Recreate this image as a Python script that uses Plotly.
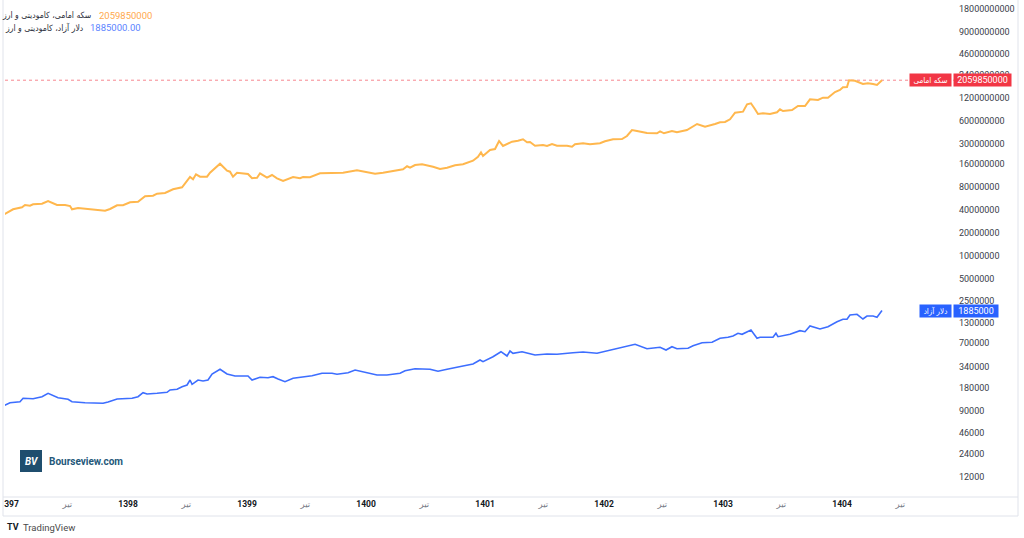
import math
import plotly.graph_objects as go

# ---------------- data ----------------
gold_name = "سکه امامی، کامودیتی و ارز"
usd_name = "دلار آزاد، کامودیتی و ارز"
gold_tag = "سکه امامی"
usd_tag = "دلار آزاد"
gold_last_text = "2059850000"
usd_last_text = "1885000.00"

gold_t = [1396.950, 1397.034, 1397.109, 1397.134, 1397.176, 1397.202, 1397.277, 1397.328, 1397.403, 1397.471,
          1397.513, 1397.529, 1397.580, 1397.681, 1397.748, 1397.807, 1397.849, 1397.908, 1397.958, 1398.017,
          1398.084, 1398.143, 1398.210, 1398.244, 1398.311, 1398.378, 1398.454, 1398.496, 1398.521, 1398.546,
          1398.571, 1398.605, 1398.664, 1398.689, 1398.773, 1398.832, 1398.857, 1398.882, 1398.916, 1399.008,
          1399.042, 1399.084, 1399.109, 1399.168, 1399.210, 1399.252, 1399.303, 1399.387, 1399.445, 1399.471,
          1399.529, 1399.613, 1399.697, 1399.807, 1399.924, 1399.975, 1400.076, 1400.143, 1400.227, 1400.311,
          1400.345, 1400.370, 1400.412, 1400.471, 1400.563, 1400.622, 1400.681, 1400.748, 1400.815, 1400.899,
          1400.941, 1400.966, 1400.983, 1401.042, 1401.084, 1401.118, 1401.151, 1401.227, 1401.277, 1401.319,
          1401.353, 1401.378, 1401.420, 1401.487, 1401.521, 1401.563, 1401.605, 1401.689, 1401.731, 1401.756,
          1401.824, 1401.882, 1401.966, 1402.008, 1402.076, 1402.151, 1402.193, 1402.235, 1402.277, 1402.361,
          1402.445, 1402.471, 1402.504, 1402.571, 1402.613, 1402.697, 1402.782, 1402.849, 1402.933, 1402.975,
          1403.017, 1403.059, 1403.101, 1403.143, 1403.168, 1403.202, 1403.235, 1403.269, 1403.294, 1403.336,
          1403.395, 1403.454, 1403.479, 1403.504, 1403.580, 1403.630, 1403.689, 1403.731, 1403.798, 1403.840,
          1403.882, 1403.941, 1403.983, 1404.008, 1404.042, 1404.059, 1404.109, 1404.176, 1404.218, 1404.261,
          1404.294, 1404.336]

gold_v = [34300000, 40800000, 43400000, 46500000, 45500000, 47500000, 48400000, 52500000, 46500000, 46500000,
          45100000, 40800000, 42500000, 41200000, 40300000, 39100000, 41200000, 46100000, 46100000, 50500000,
          51400000, 60600000, 61700000, 65600000, 67000000, 74900000, 79600000, 97300000, 108900000, 101500000,
          118200000, 109900000, 109900000, 124100000, 163100000, 131900000, 127900000, 109900000, 124100000, 119300000,
          104700000, 106600000, 121800000, 106600000, 115700000, 104700000, 96400000, 108900000, 104700000, 108900000,
          107900000, 121800000, 121800000, 124100000, 133500000, 129500000, 120300000, 124100000, 129500000, 137600000,
          150800000, 144400000, 156800000, 160200000, 148900000, 138800000, 144400000, 155400000, 160200000, 178600000,
          201700000, 230600000, 206100000, 247400000, 255000000, 325000000, 279300000, 318200000, 328000000, 342200000,
          312400000, 314800000, 281800000, 287900000, 279300000, 296800000, 281800000, 281800000, 273400000, 294100000,
          303100000, 294100000, 303100000, 322100000, 342200000, 345300000, 378400000, 454000000, 440400000, 414500000,
          410700000, 436400000, 410700000, 440400000, 423400000, 454000000, 544900000, 502000000, 544900000, 573700000,
          579000000, 628400000, 768100000, 777400000, 791800000, 991300000, 1021700000, 851400000, 738400000, 754200000,
          738400000, 777400000, 851400000, 808200000, 833200000, 941200000, 941200000, 1153500000, 1129000000, 1211000000,
          1211000000, 1440000000, 1530000000, 1661000000, 1676000000, 2060000000, 2029000000, 1836000000, 1876000000, 1836000000,
          1781000000, 2059850000]

usd_t = [1396.950, 1397.008, 1397.092, 1397.118, 1397.202, 1397.277, 1397.328, 1397.412, 1397.496, 1397.529,
         1397.639, 1397.790, 1397.832, 1397.908, 1398.034, 1398.084, 1398.126, 1398.160, 1398.244, 1398.328,
         1398.353, 1398.412, 1398.454, 1398.496, 1398.521, 1398.538, 1398.588, 1398.630, 1398.672, 1398.706,
         1398.773, 1398.832, 1398.899, 1399.008, 1399.042, 1399.109, 1399.176, 1399.218, 1399.261, 1399.319,
         1399.387, 1399.471, 1399.546, 1399.630, 1399.714, 1399.756, 1399.849, 1399.908, 1399.975, 1400.092,
         1400.176, 1400.286, 1400.328, 1400.412, 1400.538, 1400.605, 1400.681, 1400.748, 1400.815, 1400.899,
         1400.958, 1400.983, 1401.067, 1401.134, 1401.185, 1401.210, 1401.235, 1401.311, 1401.420, 1401.521,
         1401.605, 1401.739, 1401.824, 1401.941, 1402.025, 1402.067, 1402.160, 1402.261, 1402.361, 1402.471,
         1402.521, 1402.571, 1402.613, 1402.706, 1402.748, 1402.824, 1402.908, 1402.975, 1403.042, 1403.084,
         1403.126, 1403.160, 1403.235, 1403.252, 1403.286, 1403.311, 1403.420, 1403.445, 1403.462, 1403.563,
         1403.647, 1403.689, 1403.731, 1403.815, 1403.882, 1403.958, 1404.008, 1404.042, 1404.067, 1404.126,
         1404.176, 1404.210, 1404.261, 1404.294, 1404.336]

usd_v = [103700, 114700, 118200, 131100, 129500, 137600, 152500, 133500, 127200, 118200,
         114700, 112600, 117100, 128300, 131100, 137600, 155400, 149400, 152500, 157300,
         168700, 172300, 186400, 196300, 228500, 200600, 228500, 221700, 228500, 274200,
         316200, 274200, 258000, 258000, 228500, 248000, 245000, 252600, 235600, 217000,
         240600, 252600, 260300, 280200, 280200, 271800, 285300, 309600, 294100, 265900,
         265900, 280200, 303100, 322100, 316200, 297700, 316200, 329000, 349600, 371500,
         419600, 398500, 463800, 539800, 473700, 551400, 514200, 539800, 488300, 503300,
         498700, 523600, 534900, 514200, 551400, 568300, 609500, 676000, 591200, 617000,
         568300, 628400, 591200, 598500, 647900, 709600, 718200, 811100, 836100, 869800,
         944100, 915800, 1044000, 961400, 811100, 836100, 836100, 944100, 851400, 915800,
         1021700, 991100, 1178500, 1075700, 1153500, 1343000, 1444000, 1444000, 1646000, 1681000,
         1457000, 1597000, 1597000, 1535000, 1885000]

price_ticks = [12000, 24000, 46000, 90000, 180000, 340000, 700000, 1300000, 2500000, 5000000,
               10000000, 20000000, 40000000, 80000000, 160000000, 300000000, 600000000,
               1200000000, 2400000000, 4600000000, 9000000000, 18000000000]

year_ticks = [1397, 1398, 1399, 1400, 1401, 1402, 1403, 1404]
year_labels = ["1397", "1398", "1399", "1400", "1401", "1402", "1403", "1404"]
mid_ticks = [1397.49, 1398.49, 1399.49, 1400.49, 1401.49, 1402.49, 1403.49, 1404.49]
mid_label = "تیر"

# ---------------- style ----------------
GOLD = "#FFB74D"
BLUE = "#3D6EFF"
RED = "#F23645"
TXT = "#131722"
FONT = "Roboto, DejaVu Sans, sans-serif"
FA_FONT = "DejaVu Sans Condensed, DejaVu Sans, sans-serif"
X_RANGE = [1396.966, 1404.958]
Y_RANGE = [3.8153, 10.3325]

fig = go.Figure()
fig.add_trace(go.Scatter(x=X_RANGE, y=[gold_v[-1], gold_v[-1]], mode="lines",
                         line=dict(color="rgba(242,54,69,0.75)", width=0.8, dash="dot"), hoverinfo="skip"))
fig.add_trace(go.Scatter(x=gold_t, y=gold_v, mode="lines", name=gold_name,
                         line=dict(color=GOLD, width=2)))
fig.add_trace(go.Scatter(x=usd_t, y=usd_v, mode="lines", name=usd_name,
                         line=dict(color=BLUE, width=1.6)))

tickvals = year_ticks + mid_ticks
ticktext = ["<b>%s</b>" % s for s in year_labels] + \
           ["<span style='color:#787b86'>%s</span>" % mid_label for _ in mid_ticks]

fig.update_layout(
    width=1024, height=538,
    margin=dict(l=5, r=68, t=3, b=41),
    paper_bgcolor="white", plot_bgcolor="white",
    showlegend=False,
    font=dict(family=FONT, color=TXT),
    xaxis=dict(range=X_RANGE, tickvals=tickvals, ticktext=ticktext, showgrid=False,
               zeroline=False, showline=False, ticks="", tickfont=dict(size=8.5, color=TXT),
               ticklabeloverflow="allow", automargin=False, fixedrange=True),
    yaxis=dict(type="log", range=Y_RANGE, side="right", tickvals=price_ticks,
               ticktext=[str(v) for v in price_ticks], showgrid=False, zeroline=False,
               showline=False, ticks="", tickfont=dict(size=9, color="#3a3e4a"),
               ticklabelstandoff=2, automargin=False, fixedrange=True),
)

def px_x(p):
    return (p - 5) / 951.0

def px_y(p):
    return (497 - p) / 494.0

LINE = "#e0e3eb"
shapes = [
    # mask left of the frame (clips the first time label like the original pane)
    dict(type="rect", xref="paper", yref="paper", x0=px_x(-5), x1=px_x(3.5), y0=px_y(516), y1=px_y(497),
         fillcolor="white", line=dict(width=0), layer="above"),
    dict(type="line", xref="paper", yref="paper", x0=px_x(3), x1=px_x(1018), y0=px_y(497), y1=px_y(497),
         line=dict(color=LINE, width=1)),
    dict(type="line", xref="paper", yref="paper", x0=px_x(3), x1=px_x(1018), y0=px_y(516), y1=px_y(516),
         line=dict(color=LINE, width=1)),
    dict(type="line", xref="paper", yref="paper", x0=px_x(3), x1=px_x(3), y0=px_y(516), y1=px_y(0),
         line=dict(color=LINE, width=1), layer="above"),
    dict(type="line", xref="paper", yref="paper", x0=px_x(1018), x1=px_x(1018), y0=px_y(516), y1=px_y(0),
         line=dict(color=LINE, width=1)),
    # watermark logo square
    dict(type="rect", xref="paper", yref="paper", x0=px_x(20), x1=px_x(42), y0=px_y(472), y1=px_y(450),
         fillcolor="#1F4E6E", line=dict(width=0)),
]
fig.update_layout(shapes=shapes)

ann = []
# legend rows
ann.append(dict(xref="paper", yref="paper", x=px_x(93), y=px_y(15), xanchor="right", yanchor="middle",
                text=gold_name, showarrow=False, font=dict(family=FA_FONT, size=8.6, color="#2a2e39")))
ann.append(dict(xref="paper", yref="paper", x=px_x(97), y=px_y(15), xanchor="left", yanchor="middle",
                text=gold_last_text, showarrow=False, font=dict(size=9.5, color="#FFA94D")))
ann.append(dict(xref="paper", yref="paper", x=px_x(85), y=px_y(28), xanchor="right", yanchor="middle",
                text=usd_name, showarrow=False, font=dict(family=FA_FONT, size=8.6, color="#2a2e39")))
ann.append(dict(xref="paper", yref="paper", x=px_x(88), y=px_y(28), xanchor="left", yanchor="middle",
                text=usd_last_text, showarrow=False, font=dict(size=9.5, color="#5B84FF")))

# price labels
gy = math.log10(gold_v[-1])
uy = math.log10(usd_v[-1])
ann.append(dict(xref="paper", yref="y", x=px_x(953), y=gy, xanchor="left", yanchor="middle",
                text=str(gold_v[-1]), showarrow=False, bgcolor=RED, width=55, height=10,
                font=dict(size=9, color="white")))
ann.append(dict(xref="paper", yref="y", x=px_x(952), y=gy, xanchor="right", yanchor="middle",
                text=gold_tag, showarrow=False, bgcolor=RED, width=39, height=10,
                font=dict(family=FA_FONT, size=8, color="white")))
ann.append(dict(xref="paper", yref="y", x=px_x(953), y=uy, xanchor="left", yanchor="middle",
                text=str(usd_v[-1]), showarrow=False, bgcolor="#2962FF", width=42, height=10,
                font=dict(size=9, color="white")))
ann.append(dict(xref="paper", yref="y", x=px_x(952), y=uy, xanchor="right", yanchor="middle",
                text=usd_tag, showarrow=False, bgcolor="#2962FF", width=29, height=10,
                font=dict(family=FA_FONT, size=8, color="white")))

# watermark
ann.append(dict(xref="paper", yref="paper", x=px_x(31), y=px_y(461), xanchor="center", yanchor="middle",
                text="<b><i>BV</i></b>", showarrow=False, font=dict(size=10, color="white")))
ann.append(dict(xref="paper", yref="paper", x=px_x(47), y=px_y(461), xanchor="left", yanchor="middle",
                text="<b>Bourseview.com</b>", showarrow=False, font=dict(size=10, color="#24587A")))

# footer
ann.append(dict(xref="paper", yref="paper", x=px_x(5), y=px_y(527), xanchor="left", yanchor="middle",
                text="<b>TV</b>", showarrow=False, font=dict(size=9, color=TXT)))
ann.append(dict(xref="paper", yref="paper", x=px_x(21), y=px_y(527), xanchor="left", yanchor="middle",
                text="TradingView", showarrow=False, font=dict(size=9.5, color="#4a4a4a")))

fig.update_layout(annotations=ann)

fig.write_html("out.html", config={"displayModeBar": False})
